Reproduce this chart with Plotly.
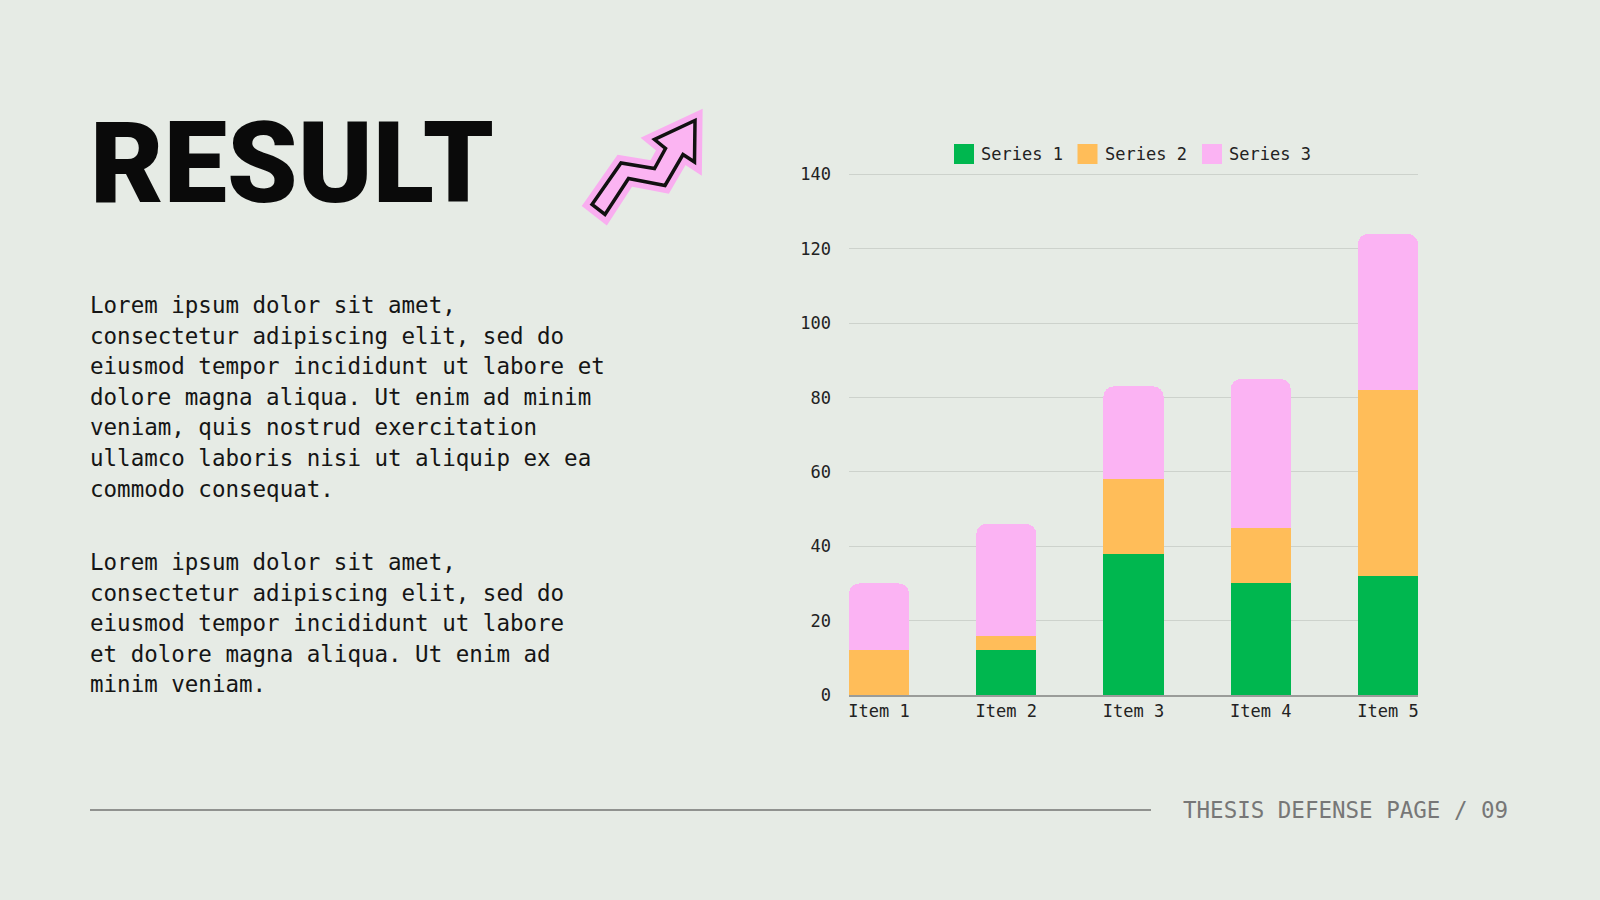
import plotly.graph_objects as go

# --- data ---
ITEMS = ["Item 1", "Item 2", "Item 3", "Item 4", "Item 5"]
SERIES = ["Series 1", "Series 2", "Series 3"]
SERIES_1 = [0, 12, 38, 30, 32]
SERIES_2 = [12, 4, 20, 15, 50]
SERIES_3 = [18, 30, 25, 40, 42]
COLORS = ["#00B74F", "#FFBD59", "#FBB3F3"]
Y_TICKS = [0, 20, 40, 60, 80, 100, 120, 140]

TITLE = "RESULT"
PARA_1 = [
    "Lorem ipsum dolor sit amet,",
    "consectetur adipiscing elit, sed do",
    "eiusmod tempor incididunt ut labore et",
    "dolore magna aliqua. Ut enim ad minim",
    "veniam, quis nostrud exercitation",
    "ullamco laboris nisi ut aliquip ex ea",
    "commodo consequat.",
]
PARA_2 = [
    "Lorem ipsum dolor sit amet,",
    "consectetur adipiscing elit, sed do",
    "eiusmod tempor incididunt ut labore",
    "et dolore magna aliqua. Ut enim ad",
    "minim veniam.",
]
FOOTER = "THESIS DEFENSE PAGE / 09"

W, H = 1600, 900
BG = "#E6EBE5"
MONO = "DejaVu Sans Mono"


def px(x, y):
    # pixel position -> paper fraction
    return x / W, 1 - y / H


fig = go.Figure()
for name, vals, col in zip(SERIES, [SERIES_1, SERIES_2, SERIES_3], COLORS):
    fig.add_trace(go.Bar(
        x=ITEMS, y=vals, name=name, width=0.472,
        marker=dict(color=col, line=dict(width=0)),
        showlegend=False, hoverinfo="skip",
    ))

# plot area in pixels: left 849, right 1418, top ~173.5, bottom 695
fig.update_layout(
    width=W, height=H,
    margin=dict(l=0, r=0, t=0, b=0, autoexpand=False),
    paper_bgcolor=BG, plot_bgcolor=BG,
    barmode="stack", barcornerradius=10,
    font=dict(family=MONO, size=17, color="#222222"),
    xaxis=dict(
        domain=[849 / W, 1418 / W], type="category", automargin=False,
        range=[-0.236, 4.236], showgrid=False,
        showline=True, linecolor="#9A9C99", linewidth=1.5,
        ticks="", tickfont=dict(family=MONO, size=17, color="#222222"),
    ),
    yaxis=dict(
        domain=[1 - 695 / H, 1 - 173.4 / H], range=[0, 140.3], automargin=False,
        tickvals=Y_TICKS, showgrid=True, gridcolor="#CDD2CC", gridwidth=1,
        zeroline=False, ticks="", ticklabelstandoff=17,
        tickfont=dict(family=MONO, size=17, color="#222222"),
    ),
)

# legend drawn by hand (bigger swatches than plotly's)
leg_x = [954, 1077.5, 1202]
for xs, name, col in zip(leg_x, SERIES, COLORS):
    x0, y0 = px(xs, 144)
    x1, y1 = px(xs + 20, 164)
    fig.add_shape(type="rect", xref="paper", yref="paper",
                  x0=x0, x1=x1, y0=y0, y1=y1,
                  fillcolor=col, line=dict(width=0))
    tx, ty = px(xs + 25, 154)
    fig.add_annotation(text=name, xref="paper", yref="paper", x=tx, y=ty,
                       xanchor="left", yanchor="middle", showarrow=False,
                       font=dict(family=MONO, size=17, color="#222222"))

# title
tx, ty = px(88, 163)
fig.add_annotation(text=TITLE, xref="paper", yref="paper",
                   x=tx, y=ty, xanchor="left", yanchor="middle", showarrow=False,
                   font=dict(family="Roboto", weight=900, size=113, color="#0A0A0A"))

# body paragraphs, one line each
LINE_H = 30.6
for start, lines in [(305, PARA_1), (562, PARA_2)]:
    for i, line in enumerate(lines):
        lx, ly = px(88, start + i * LINE_H)
        fig.add_annotation(text=line, xref="paper", yref="paper", x=lx, y=ly,
                           xanchor="left", yanchor="middle", showarrow=False,
                           font=dict(family=MONO, size=22.5, color="#151515"))

# footer rule + page label
fx0, fy = px(90, 810)
fx1, _ = px(1151, 810)
fig.add_shape(type="line", xref="paper", yref="paper", x0=fx0, x1=fx1, y0=fy, y1=fy,
              line=dict(color="#3A3A3A", width=1.2))
lx, ly = px(1510, 810)
fig.add_annotation(text=FOOTER, xref="paper", yref="paper", x=lx, y=ly,
                   xanchor="right", yanchor="middle", showarrow=False,
                   font=dict(family=MONO, size=22.5, color="#777777"))

# zigzag arrow sticker
arrow_pts = [
    (592, 204.5), (621, 163), (654.5, 168.5), (665.5, 148.5), (654.5, 139.5),
    (695, 120.5), (694.5, 162), (683, 154.5), (665, 185.5), (628.5, 178.5),
    (605, 214.5),
]
path = ""
for i, (ax, ay) in enumerate(arrow_pts):
    X, Y = px(ax, ay)
    path += ("M" if i == 0 else "L") + f"{X:.5f},{Y:.5f}"
path += "Z"
fig.add_shape(type="path", path=path, xref="paper", yref="paper",
              fillcolor="#F9AEF0", line=dict(color="#F9AEF0", width=15))
fig.add_shape(type="path", path=path, xref="paper", yref="paper",
              fillcolor="#FBB4F2", line=dict(color="#111111", width=3.5))

fig.write_html(
    "out.html",
    config={"displayModeBar": False},
    post_script="document.body.style.margin='0';document.body.style.overflow='hidden';",
)
